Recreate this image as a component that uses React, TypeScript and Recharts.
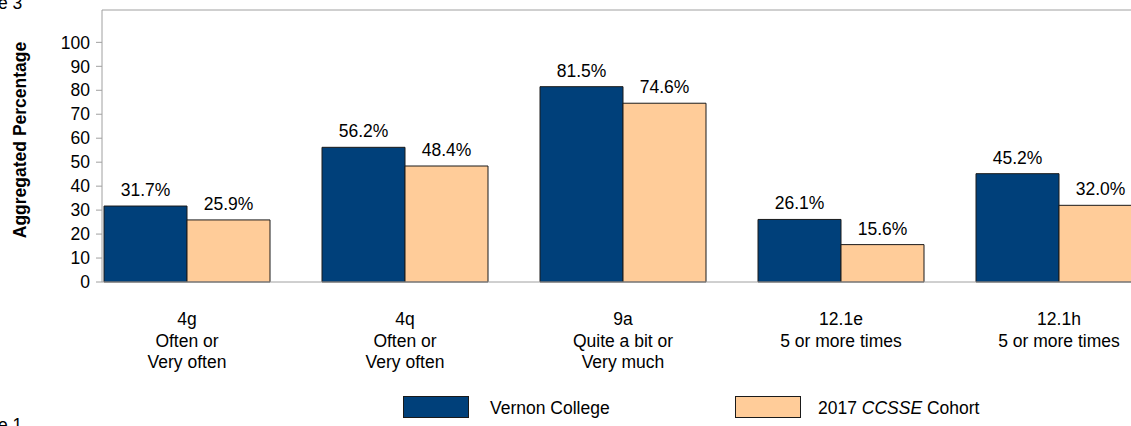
import React from 'react';
import { BarChart, Bar, XAxis, YAxis, LabelList, Legend, ReferenceLine } from 'recharts';

const categoryCodes = ['4g', '4q', '9a', '12.1e', '12.1h'];
const categoryLine2 = ['Often or', 'Often or', 'Quite a bit or', '5 or more times', '5 or more times'];
const categoryLine3 = ['Very often', 'Very often', 'Very much', '', ''];

const collegeValues = [31.7, 56.2, 81.5, 26.1, 45.2];
const cohortValues = [25.9, 48.4, 74.6, 15.6, 32.0];

const yTicks = [0, 10, 20, 30, 40, 50, 60, 70, 80, 90, 100];
const yMax = 113.5;

const BLUE = '#00407A';
const PEACH = '#FFCC99';
const FONT = '"Liberation Sans", Arial, sans-serif';

const data = categoryCodes.map((code, i) => ({
  code,
  line2: categoryLine2[i],
  line3: categoryLine3[i],
  college: collegeValues[i],
  cohort: cohortValues[i],
}));

const pct = (v: any) => `${Number(v).toFixed(1)}%`;

const CategoryTick = ({ x, y, index }: any) => {
  const row = data[index];
  if (!row) return null;
  return (
    <g transform={`translate(${x},${y})`}>
      <text textAnchor="middle" fontFamily={FONT} fontSize={17.5} fill="#000">
        <tspan x={0} y={43}>{row.code}</tspan>
        <tspan x={0} y={64.5}>{row.line2}</tspan>
        {row.line3 && <tspan x={0} y={86}>{row.line3}</tspan>}
      </text>
    </g>
  );
};

const AxisTitle = () => (
  <text
    x={26}
    y={140}
    transform="rotate(-90, 26, 140)"
    textAnchor="middle"
    fontFamily={FONT}
    fontSize={17.5}
    fontWeight="bold"
    fill="#000"
  >
    Aggregated Percentage
  </text>
);

const LegendBox = () => (
  <div style={{ position: 'relative', height: 30, fontFamily: FONT, fontSize: 17.5, color: '#000' }}>
    <div style={{ position: 'absolute', left: 403, top: 0, width: 66, height: 22, background: BLUE, border: '1px solid #1a1a1a', boxSizing: 'border-box' }} />
    <span style={{ position: 'absolute', left: 490, top: 2 }}>Vernon College</span>
    <div style={{ position: 'absolute', left: 735, top: 0, width: 66, height: 22, background: PEACH, border: '1px solid #1a1a1a', boxSizing: 'border-box' }} />
    <span style={{ position: 'absolute', left: 818, top: 2 }}>
      2017 <i>CCSSE</i> Cohort
    </span>
  </div>
);

export default function App() {
  return (
    <div style={{ position: 'absolute', left: 0, top: 0, width: 1131, height: 426, overflow: 'hidden', background: '#fff' }}>
      <BarChart
        width={1180}
        height={426}
        data={data}
        margin={{ top: 10, right: 12, bottom: 14, left: 42 }}
        barCategoryGap={26}
        barGap={0}
      >
        <XAxis
          dataKey="code"
          tick={<CategoryTick />}
          tickLine={false}
          tickSize={0}
          tickMargin={0}
          height={100}
          interval={0}
          padding={{ left: -24, right: 0 }}
          stroke="#a0a0a0"
        />
        <YAxis
          domain={[0, yMax]}
          ticks={yTicks}
          width={60}
          tickSize={6}
          tickMargin={6}
          interval={0}
          stroke="#a0a0a0"
          tick={{ fill: '#000', fontSize: 17.5, fontFamily: FONT }}
          label={<AxisTitle />}
        />
        <ReferenceLine y={yMax} stroke="#a0a0a0" />
        <Legend
          verticalAlign="bottom"
          content={<LegendBox />}
          wrapperStyle={{ position: 'absolute', left: 0, top: 396, width: 1180 }}
        />
        <Bar dataKey="college" name="Vernon College" fill={BLUE} stroke="#1a1a1a" strokeWidth={1} isAnimationActive={false}>
          <LabelList dataKey="college" position="top" offset={10} formatter={pct} fill="#000" fontSize={17.5} fontFamily={FONT} />
        </Bar>
        <Bar dataKey="cohort" name="2017 CCSSE Cohort" fill={PEACH} stroke="#1a1a1a" strokeWidth={1} isAnimationActive={false}>
          <LabelList dataKey="cohort" position="top" offset={10} formatter={pct} fill="#000" fontSize={17.5} fontFamily={FONT} />
        </Bar>
      </BarChart>
      <div style={{ position: 'absolute', left: -2, top: -5, fontFamily: FONT, fontSize: 17.5, lineHeight: '17px', color: '#000' }}>e 3</div>
      <div style={{ position: 'absolute', left: -2, top: 417, fontFamily: FONT, fontSize: 17.5, lineHeight: '17px', color: '#000' }}>e 1</div>
    </div>
  );
}
